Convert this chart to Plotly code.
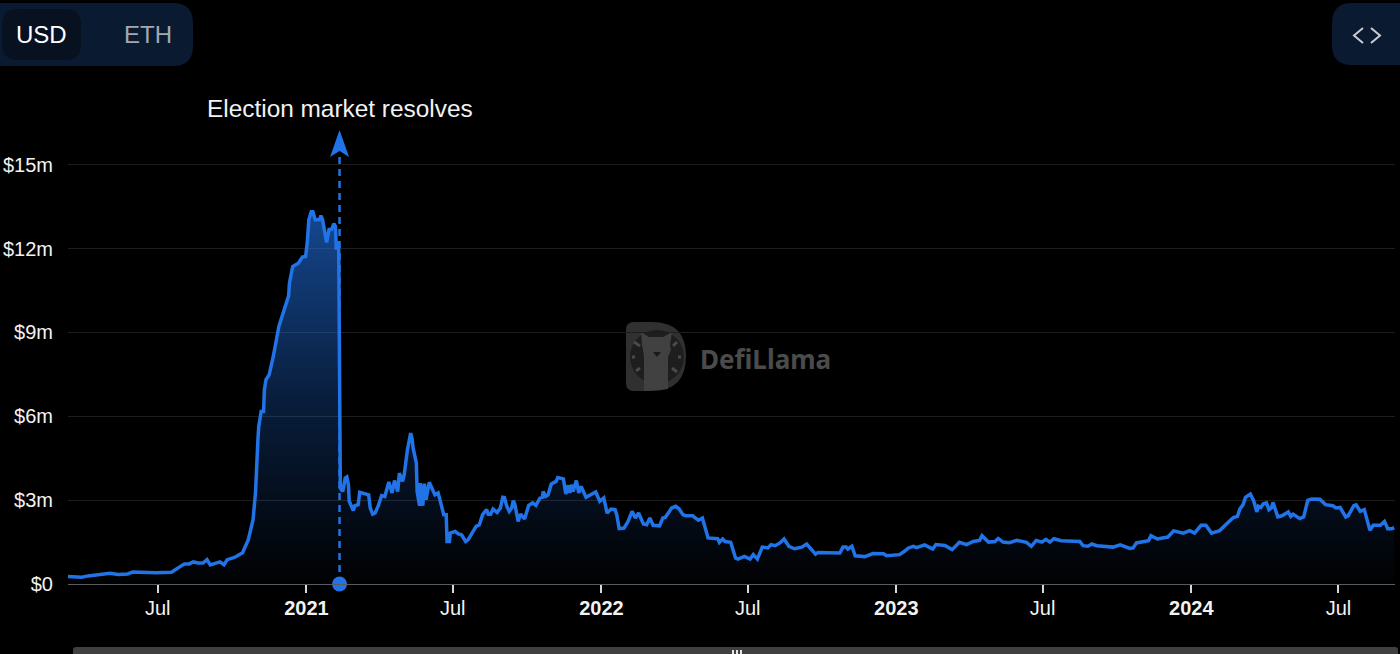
import pandas as pd
import plotly.graph_objects as go

# days counted from 2021-01-01, values in $m
days = [-295, -287, -278, -270, -262, -258, -243, -233, -221, -215, -186, -167, -159, -151, -145, -140, -134, -128,
        -123, -119, -107, -102, -98, -89, -79, -72, -66, -63, -60, -59, -56, -53, -52, -50, -46, -41, -34, -27, -22,
        -21, -17, -10, -5, -1, 1, 3, 6, 8, 11, 16, 18, 20, 23, 25, 28, 31, 34, 36, 37, 39, 40, 41, 42, 45, 48, 50, 52,
        53, 56, 58, 60, 64, 66, 74, 77, 79, 82, 85, 89, 93, 97, 102, 106, 109, 113, 115, 119, 121, 125, 129, 131, 132,
        136, 137, 140, 141, 144, 146, 148, 152, 155, 159, 163, 167, 170, 173, 174, 177, 178, 184, 188, 192, 197, 200,
        210, 214, 218, 223, 225, 228, 231, 236, 240, 243, 245, 248, 251, 254, 256, 258, 262, 265, 270, 275, 280, 284,
        289, 292, 293, 296, 299, 303, 309, 311, 318, 321, 324, 326, 328, 330, 334, 337, 340, 346, 351, 358, 363, 368,
        372, 377, 382, 384, 387, 393, 398, 403, 407, 411, 417, 421, 425, 429, 437, 441, 444, 452, 457, 461, 466, 470,
        478, 485, 490, 493, 497, 509, 511, 515, 518, 525, 531, 534, 542, 549, 553, 558, 564, 571, 575, 580, 586, 591,
        597, 604, 613, 619, 625, 630, 633, 648, 660, 664, 668, 670, 675, 679, 687, 691, 701, 714, 718, 734, 740, 745,
        751, 755, 765, 775, 779, 790, 799, 808, 817, 825, 833, 836, 844, 852, 856, 862, 870, 879, 891, 897, 903, 910,
        915, 920, 925, 934, 957, 961, 967, 972, 978, 998, 1007, 1019, 1023, 1027, 1042, 1045, 1053, 1066, 1073, 1079,
        1085, 1093, 1099, 1107, 1113, 1120, 1130, 1141, 1147, 1152, 1155, 1159, 1162, 1168, 1172, 1176, 1178, 1181,
        1184, 1188, 1191, 1194, 1196, 1202, 1207, 1215, 1218, 1221, 1229, 1234, 1239, 1244, 1254, 1261, 1270, 1274,
        1279, 1286, 1289, 1296, 1299, 1304, 1309, 1316, 1320, 1329, 1334, 1338, 1343, 1346]
tvl = [0.27, 0.27, 0.24, 0.29, 0.31, 0.34, 0.38, 0.34, 0.36, 0.43, 0.40, 0.42, 0.56, 0.72, 0.72, 0.79, 0.75, 0.75,
       0.87, 0.68, 0.79, 0.69, 0.87, 0.95, 1.12, 1.58, 2.30, 3.27, 5.16, 5.63, 6.17, 6.17, 6.95, 7.31, 7.49, 8.14, 9.22,
       9.81, 10.31, 10.76, 11.36, 11.48, 11.70, 11.72, 12.20, 13.03, 13.32, 13.32, 13.03, 13.03, 13.18, 13.03, 12.62,
       12.22, 12.68, 12.68, 12.89, 12.79, 11.96, 12.26, 11.96, 3.61, 3.43, 3.31, 3.79, 3.83, 3.55, 2.96, 2.78, 2.63,
       2.80, 2.84, 3.28, 3.23, 3.19, 2.72, 2.50, 2.54, 2.80, 3.16, 3.13, 3.65, 3.26, 3.70, 3.31, 3.97, 3.67, 3.91, 4.80,
       5.40, 5.16, 4.87, 4.33, 3.31, 2.80, 3.61, 2.80, 3.59, 3.02, 3.64, 3.43, 3.19, 3.26, 2.78, 2.48, 2.48, 1.52, 1.52,
       1.82, 1.88, 1.79, 1.76, 1.52, 1.58, 2.06, 2.12, 2.48, 2.66, 2.50, 2.50, 2.68, 2.56, 2.72, 3.10, 3.09, 2.78, 2.60,
       2.72, 2.98, 2.84, 2.24, 2.50, 2.33, 2.81, 2.90, 2.81, 3.08, 3.10, 3.31, 3.13, 3.19, 3.58, 3.67, 3.81, 3.76, 3.22,
       3.53, 3.26, 3.55, 3.31, 3.70, 3.26, 3.49, 3.10, 3.17, 3.29, 2.96, 3.08, 2.54, 2.68, 2.66, 2.48, 1.98, 2.00, 2.24,
       2.60, 2.36, 2.54, 2.15, 2.12, 2.36, 2.10, 2.08, 2.36, 2.38, 2.72, 2.78, 2.69, 2.48, 2.44, 2.44, 2.28, 2.36, 2.00,
       1.65, 1.62, 1.49, 1.61, 1.52, 1.49, 0.93, 0.89, 0.99, 0.89, 1.05, 0.89, 1.32, 1.29, 1.41, 1.37, 1.47, 1.61, 1.35,
       1.26, 1.32, 1.43, 1.23, 1.07, 1.13, 1.11, 1.11, 1.32, 1.32, 1.25, 1.35, 1.01, 1.01, 0.98, 1.09, 1.08, 1.01, 1.05,
       1.17, 1.29, 1.35, 1.30, 1.40, 1.25, 1.41, 1.38, 1.23, 1.49, 1.41, 1.52, 1.56, 1.73, 1.50, 1.52, 1.63, 1.50, 1.48,
       1.56, 1.49, 1.35, 1.56, 1.50, 1.60, 1.50, 1.62, 1.55, 1.52, 1.37, 1.35, 1.43, 1.37, 1.32, 1.40, 1.27, 1.29, 1.47,
       1.55, 1.73, 1.61, 1.68, 1.90, 1.85, 1.82, 1.91, 1.82, 2.10, 2.10, 1.82, 1.91, 2.22, 2.38, 2.42, 2.68, 2.84, 3.10,
       3.22, 2.99, 2.58, 2.78, 2.74, 2.87, 2.90, 2.66, 2.72, 2.92, 2.40, 2.44, 2.58, 2.42, 2.50, 2.34, 2.40, 2.99, 3.04,
       3.03, 2.84, 2.80, 2.72, 2.74, 2.40, 2.44, 2.80, 2.83, 2.60, 2.66, 1.92, 2.10, 2.10, 2.24, 1.98, 1.98, 2.02]

tick_dates = ['2020-07-01', '2021-01-01', '2021-07-01', '2022-01-01', '2022-07-01', '2023-01-01', '2023-07-01',
              '2024-01-01', '2024-07-01']
tick_labels = ['Jul', '<b>2021</b>', 'Jul', '<b>2022</b>', 'Jul', '<b>2023</b>', 'Jul', '<b>2024</b>', 'Jul']
y_ticks = [0, 3, 6, 9, 12, 15]
y_labels = ['$0', '$3m', '$6m', '$9m', '$12m', '$15m']
event_date = '2021-02-11'
event_top = 16.24
event_label = 'Election market resolves'

dates = pd.Timestamp('2021-01-01') + pd.to_timedelta(days, unit='D')

BLUE = '#2173e8'
FONT = 'Liberation Sans'
PLOT_L, PLOT_R, PLOT_B = 68, 1395, 584


# page pixels -> paper coordinates, only for the page furniture
def px(x):
    return (x - PLOT_L) / (PLOT_R - PLOT_L)


def py(y):
    return (PLOT_B - y) / PLOT_B


def path(points):
    return 'M' + ' L'.join(f'{px(x)},{py(y)}' for x, y in points)


def round_rect(x0, y0, x1, y1, r):
    return (f'M{px(x0 + r)},{py(y0)} L{px(x1 - r)},{py(y0)} Q{px(x1)},{py(y0)} {px(x1)},{py(y0 + r)} '
            f'L{px(x1)},{py(y1 - r)} Q{px(x1)},{py(y1)} {px(x1 - r)},{py(y1)} L{px(x0 + r)},{py(y1)} '
            f'Q{px(x0)},{py(y1)} {px(x0)},{py(y1 - r)} L{px(x0)},{py(y0 + r)} Q{px(x0)},{py(y0)} {px(x0 + r)},{py(y0)} Z')


def add_path(d, fill=None, line=None, width=0, layer='above'):
    fig.add_shape(type='path', path=d, xref='paper', yref='paper', fillcolor=fill, layer=layer,
                  line=dict(color=line, width=width))


def add_text(x, y, text, size, color, family=FONT, xanchor='center'):
    fig.add_annotation(x=px(x), y=py(y), xref='paper', yref='paper', text=text, showarrow=False,
                       xanchor=xanchor, yanchor='middle', font=dict(family=family, size=size, color=color))


fig = go.Figure()

fig.add_trace(go.Scatter(x=dates, y=tvl, mode='lines', fill='tozeroy',
                         line=dict(color=BLUE, width=3.5),
                         fillgradient=dict(type='vertical', start=0, stop=max(tvl),
                                           colorscale=[[0, 'rgba(33,115,232,0.01)'], [0.5, 'rgba(33,115,232,0.26)'],
                                                       [1, 'rgba(33,115,232,0.62)']])))
fig.add_trace(go.Scatter(x=[event_date, event_date], y=[0, event_top - 0.9], mode='lines',
                         line=dict(color=BLUE, width=2.5, dash='7px,5px')))
fig.add_trace(go.Scatter(x=[event_date], y=[0], mode='markers', cliponaxis=False,
                         marker=dict(color=BLUE, size=15, line=dict(width=0))))

# arrow head on top of the dashed line, sized in pixels from its tip
fig.add_shape(type='path', xref='x', yref='y', xsizemode='pixel', ysizemode='pixel',
              xanchor=event_date, yanchor=event_top, path='M0,0 L-9.5,-27 L0,-21 L9.5,-27 Z',
              fillcolor=BLUE, line=dict(width=0))

fig.add_annotation(x=event_date, y=event_top, text=event_label, showarrow=False, yanchor='bottom', yshift=6,
                   font=dict(family=FONT, size=24.4, color='#f2f2f2'))

# watermark
add_path(f'M{px(634)},{py(322)} L{px(652)},{py(322)} Q{px(686)},{py(322)} {px(686)},{py(356)} '
         f'Q{px(686)},{py(391)} {px(652)},{py(391)} L{px(634)},{py(391)} Q{px(626)},{py(391)} {px(626)},{py(383)} '
         f'L{px(626)},{py(330)} Q{px(626)},{py(322)} {px(634)},{py(322)} Z', fill='#303030', layer='below')
fig.add_shape(type='circle', xref='paper', yref='paper', x0=px(630), x1=px(684), y0=py(384), y1=py(330),
              fillcolor='#1e1e1e', line=dict(width=0), layer='below')
add_path(path([(641, 332), (649, 337), (663, 337), (672, 332), (670, 345), (671, 350), (668, 357), (668, 389),
               (644, 391), (644, 357), (643, 350), (642, 345)]) + ' Z', fill='#414141', layer='below')
add_path(path([(653, 352), (661, 352), (657, 357)]) + ' Z', fill='#1a1a1a', layer='below')
for seg in [[(634, 342), (640, 346)], [(632, 357), (635, 357)], [(636, 371), (640, 368)],
            [(673, 346), (677, 342)], [(678, 357), (681, 357)], [(672, 368), (677, 372)]]:
    add_path(path(seg), line='#4a4a4a', width=3, layer='below')
add_text(698, 359, '<b>DefiLlama</b>', 26, '#4b4b4b', family='Noto Sans', xanchor='left')

# buttons
add_path(round_rect(-30, 3, 193, 66, 20), fill='#0a1a30')
add_path(round_rect(2, 9, 81, 60, 16), fill='#07111f')
add_path(round_rect(1332, 3, 1430, 65, 20), fill='#0a1a30')
add_path(path([(1363, 28), (1354, 35.5), (1363, 43)]), line='#c9cdd4', width=2)
add_path(path([(1371, 28), (1380, 35.5), (1371, 43)]), line='#c9cdd4', width=2)
add_text(41, 35, 'USD', 24, '#ffffff')
add_text(147.5, 35, 'ETH', 24, '#a3a8b3')

# scrollbar under the chart
add_path(round_rect(73, 647, 1398, 660, 3), fill='#404040')
for grip in [733, 737, 741]:
    add_path(path([(grip, 650), (grip, 654)]), line='#e6e6e6', width=2)

fig.update_layout(width=1400, height=654, margin=dict(l=PLOT_L, r=1400 - PLOT_R, t=0, b=654 - PLOT_B),
                  paper_bgcolor='#000000', plot_bgcolor='#000000', showlegend=False,
                  font=dict(family=FONT, size=20, color='#f2f2f2'))
fig.update_xaxes(type='date', range=['2020-03-12', '2024-09-09'], tickmode='array', tickvals=tick_dates,
                 ticktext=tick_labels, showgrid=False, zeroline=False,
                 ticks='outside', ticklen=8, tickwidth=1.5, tickcolor='#d8d8d8', ticklabelstandoff=-2,
                 showline=True, linecolor='#5c5c5c', linewidth=1)
fig.update_yaxes(range=[0, 584 / 27.95], tickmode='array', tickvals=y_ticks, ticktext=y_labels,
                 showgrid=True, gridcolor='#1d1d1d', gridwidth=1, zeroline=False, showline=False,
                 ticks='', ticklabelstandoff=14)

fig.write_html("out.html", config={'displayModeBar': False}, post_script="document.body.style.margin = '0';")
